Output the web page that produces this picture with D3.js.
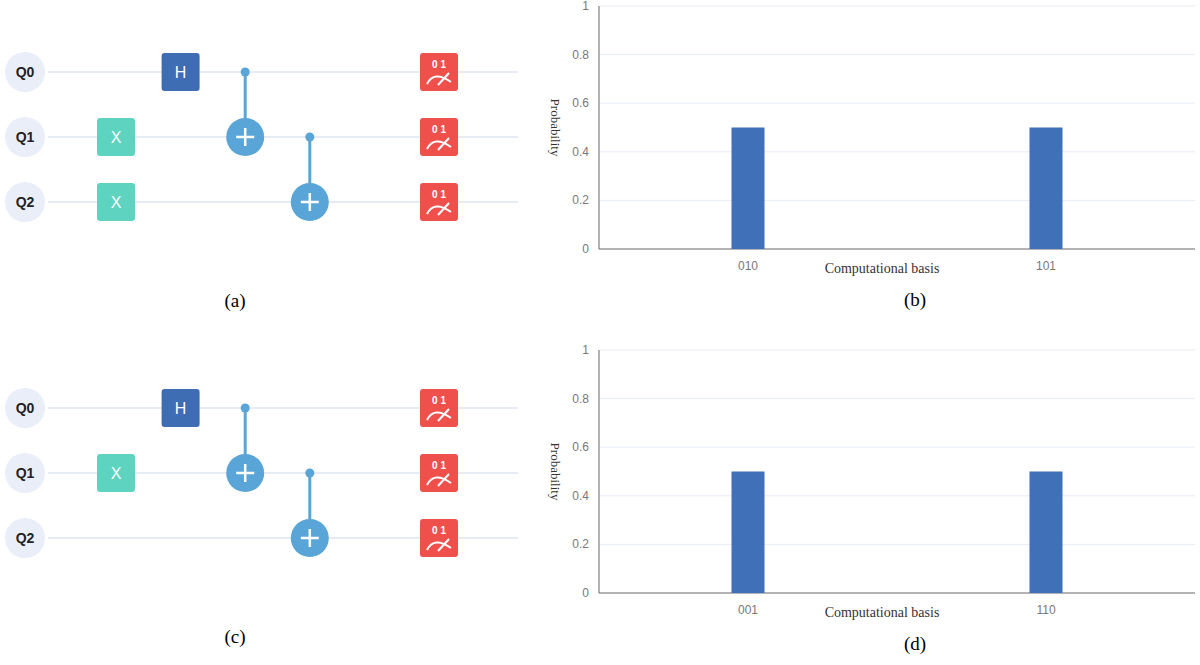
<!DOCTYPE html><html><head><meta charset="utf-8"><script src="https://cdn.jsdelivr.net/npm/d3@7"></script>
<style>body{margin:0;background:#fff}</style></head><body><svg id="s" width="1200" height="665"></svg>
<script>
const qubits=["Q0","Q1","Q2"];
const gatesA=[{t:"X",q:1,c:0},{t:"X",q:2,c:0},{t:"H",q:0,c:1},{t:"CX",ctl:0,q:1,c:2},{t:"CX",ctl:1,q:2,c:3},{t:"M",q:0,c:5},{t:"M",q:1,c:5},{t:"M",q:2,c:5}];
const gatesC=[{t:"X",q:1,c:0},{t:"H",q:0,c:1},{t:"CX",ctl:0,q:1,c:2},{t:"CX",ctl:1,q:2,c:3},{t:"M",q:0,c:5},{t:"M",q:1,c:5},{t:"M",q:2,c:5}];
const catsB=["010","101"], valsB=[0.5,0.5];
const catsD=["001","110"], valsD=[0.5,0.5];
const yTicks=[0,0.2,0.4,0.6,0.8,1];
const svg=d3.select("#s");
function circuit(y0,gates,label){
  const g=svg.append("g");
  const y=d3.scalePoint().domain(qubits).range([y0,y0+130]);
  const x=d3.scaleLinear().domain([0,5]).range([116,439]);
  qubits.forEach(q=>{
    g.append("line").attr("x1",48).attr("x2",518).attr("y1",y(q)).attr("y2",y(q)).attr("stroke","#e6ebf5").attr("stroke-width",2);
    g.append("circle").attr("cx",25).attr("cy",y(q)).attr("r",20).attr("fill","#e9eef9");
    g.append("text").attr("x",25).attr("y",y(q)+5).attr("text-anchor","middle").attr("font-family","Liberation Sans,Arial").attr("font-weight","bold").attr("font-size",14).attr("fill","#222").text(q);
  });
  gates.forEach(d=>{
    const cx=x(d.c), cy=y(qubits[d.q]);
    if(d.t==="X"||d.t==="H"){
      g.append("rect").attr("x",cx-19).attr("y",cy-19).attr("width",38).attr("height",38).attr("rx",3).attr("fill",d.t==="X"?"#5dd3c0":"#3e6db3");
      g.append("text").attr("x",cx).attr("y",cy+6).attr("text-anchor","middle").attr("font-family","Liberation Sans,Arial").attr("font-size",16).attr("fill","#fff").text(d.t);
    } else if(d.t==="CX"){
      const ccy=y(qubits[d.ctl]);
      g.append("line").attr("x1",cx).attr("x2",cx).attr("y1",ccy).attr("y2",cy).attr("stroke","#5aa5d8").attr("stroke-width",3);
      g.append("circle").attr("cx",cx).attr("cy",ccy).attr("r",4.5).attr("fill","#5aa5d8");
      g.append("circle").attr("cx",cx).attr("cy",cy).attr("r",19).attr("fill","#5aa5d8");
      g.append("path").attr("d",`M${cx-9},${cy}H${cx+9}M${cx},${cy-9}V${cy+9}`).attr("stroke","#fff").attr("stroke-width",2.5);
    } else {
      g.append("rect").attr("x",cx-19).attr("y",cy-19).attr("width",38).attr("height",38).attr("rx",3).attr("fill","#f0504c");
      g.append("text").attr("x",cx).attr("y",cy-4).attr("text-anchor","middle").attr("font-family","Liberation Sans,Arial").attr("font-weight","bold").attr("font-size",10).attr("fill","#fff").text("0 1");
      g.append("path").attr("d",`M${cx-12},${cy+12}Q${cx-5},${cy-2} ${cx+12},${cy+10}M${cx-1},${cy+13}L${cx+10},${cy+1}`).attr("stroke","#fff").attr("stroke-width",2).attr("fill","none");
    }
  });
  svg.append("text").attr("x",235).attr("y",y0+235).attr("text-anchor","middle").attr("font-family","Liberation Serif,Times New Roman").attr("font-size",19).text(label);
}
function bars(top,cats,vals,label){
  const g=svg.append("g");
  const L=599,R=1195,B=top+243;
  const x=d3.scaleBand().domain(cats).range([L,R]);
  const y=d3.scaleLinear().domain([0,1]).range([B,top]);
  yTicks.forEach(t=>{
    if(t>0) g.append("line").attr("x1",L).attr("x2",R).attr("y1",y(t)).attr("y2",y(t)).attr("stroke","#e8ecf7");
    g.append("text").attr("x",L-10).attr("y",y(t)+4).attr("text-anchor","end").attr("font-family","Liberation Sans,Arial").attr("font-size",12).attr("fill","#777").text(t);
  });
  g.append("line").attr("x1",L).attr("x2",L).attr("y1",top).attr("y2",B).attr("stroke","#666");
  g.append("line").attr("x1",L).attr("x2",R).attr("y1",B).attr("y2",B).attr("stroke","#666");
  const bw=33;
  cats.forEach((c,i)=>{
    const cx=x(c)+x.bandwidth()/2;
    g.append("rect").attr("x",cx-bw/2).attr("y",y(vals[i])).attr("width",bw).attr("height",B-y(vals[i])).attr("fill","#3f70b8");
    g.append("text").attr("x",cx).attr("y",B+21).attr("text-anchor","middle").attr("font-family","Liberation Sans,Arial").attr("font-size",12).attr("fill","#777").text(c);
  });
  g.append("text").attr("x",(L+R)/2-15).attr("y",B+24).attr("text-anchor","middle").attr("font-family","Liberation Serif,Times New Roman").attr("font-size",14).attr("fill","#333").text("Computational basis");
  g.append("text").attr("transform",`translate(551,${(top+B)/2}) rotate(90)`).attr("text-anchor","middle").attr("font-family","Liberation Serif,Times New Roman").attr("font-size",13).attr("fill","#333").text("Probability");
  svg.append("text").attr("x",915).attr("y",top+300).attr("text-anchor","middle").attr("font-family","Liberation Serif,Times New Roman").attr("font-size",19).text(label);
}
circuit(72,gatesA,"(a)");
circuit(408,gatesC,"(c)");
bars(6,catsB,valsB,"(b)");
bars(350,catsD,valsD,"(d)");
</script></body></html>
